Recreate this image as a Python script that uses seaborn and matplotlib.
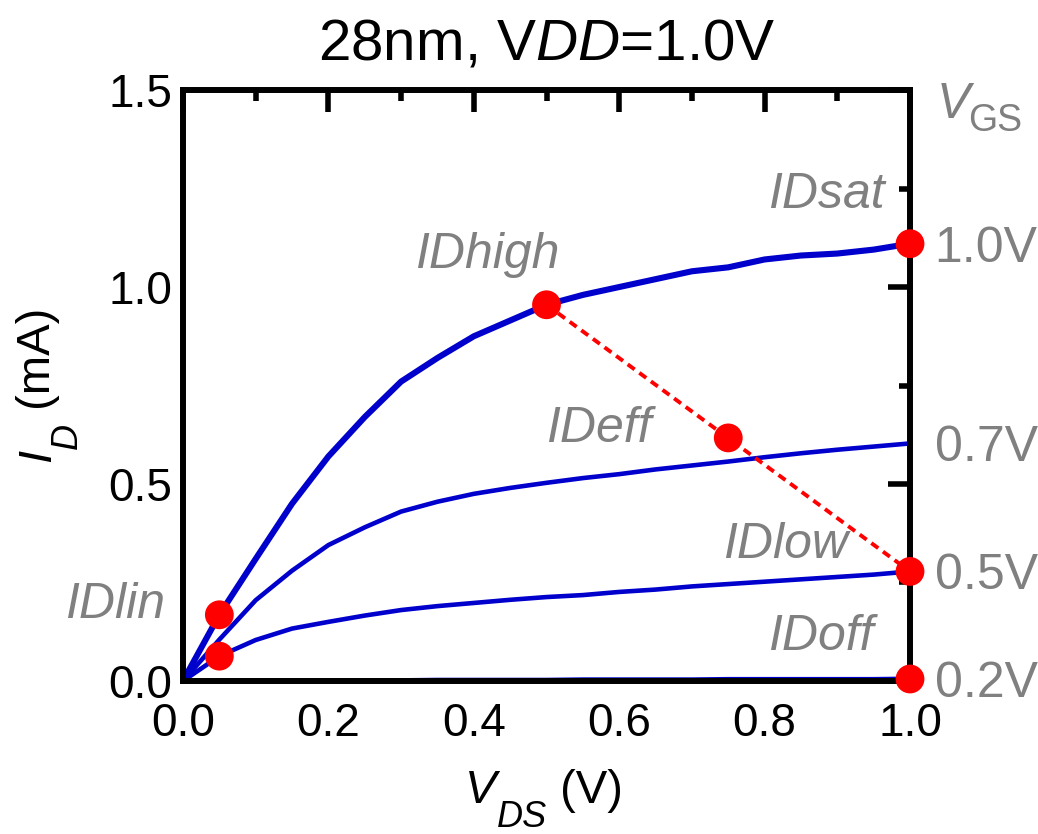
import numpy as np
import pandas as pd
import seaborn as sns
import matplotlib.pyplot as plt
from matplotlib.ticker import MultipleLocator

# Output characteristics (mA vs V)
VDS = [0.0, 0.05, 0.1, 0.15, 0.2, 0.25, 0.3, 0.35, 0.4, 0.45, 0.5,
       0.55, 0.6, 0.65, 0.7, 0.75, 0.8, 0.85, 0.9, 0.95, 1.0]
ID_VGS10 = [0.0, 0.168, 0.31, 0.45, 0.57, 0.67, 0.76, 0.82, 0.875, 0.915, 0.955,
            0.98, 1.0, 1.02, 1.04, 1.05, 1.07, 1.08, 1.085, 1.095, 1.11]
ID_VGS07 = [0.0, 0.105, 0.205, 0.28, 0.345, 0.39, 0.43, 0.455, 0.475, 0.49, 0.503,
            0.515, 0.525, 0.537, 0.547, 0.557, 0.568, 0.578, 0.587, 0.595, 0.603]
ID_VGS05 = [0.0, 0.063, 0.104, 0.133, 0.15, 0.166, 0.18, 0.19, 0.198, 0.206, 0.213,
            0.218, 0.226, 0.232, 0.24, 0.246, 0.252, 0.258, 0.264, 0.27, 0.278]
ID_VGS02 = [0.0, 0.001, 0.001, 0.001, 0.002, 0.002, 0.002, 0.003, 0.003, 0.003, 0.003,
            0.004, 0.004, 0.004, 0.004, 0.005, 0.005, 0.005, 0.005, 0.005, 0.006]
VGS_LABELS = ["1.0V", "0.7V", "0.5V", "0.2V"]

# Marked operating points
POINT_NAMES = ["IDlin", "IDlin2", "IDhigh", "IDeff", "IDlow", "IDsat", "IDoff"]
POINT_VDS = [0.05, 0.05, 0.5, 0.75, 1.0, 1.0, 1.0]
POINT_ID = [0.168, 0.063, 0.955, 0.617, 0.278, 1.11, 0.005]
# IDhigh -> IDlow line
DASH_VDS = [0.5, 1.0]
DASH_ID = [0.955, 0.278]

BLUE = "#0000CD"
GRAY = "#808080"
W, H = 1038, 834


def main():
    sns.set_style("white")
    plt.rcParams['font.family'] = ['Liberation Sans', 'DejaVu Sans']
    plt.rcParams['text.color'] = 'black'
    plt.rcParams['mathtext.fontset'] = 'custom'
    plt.rcParams['mathtext.rm'] = 'Liberation Sans'
    plt.rcParams['mathtext.it'] = 'Liberation Sans:italic'

    curves = pd.concat([
        pd.DataFrame({"Vds": VDS, "Id": ids, "Vgs": lab})
        for ids, lab in zip([ID_VGS10, ID_VGS07, ID_VGS05, ID_VGS02], VGS_LABELS)
    ])
    points = pd.DataFrame({"Vds": POINT_VDS, "Id": POINT_ID, "name": POINT_NAMES})
    dash = pd.DataFrame({"Vds": DASH_VDS, "Id": DASH_ID})

    fig = plt.figure(figsize=(W / 100, H / 100), dpi=100)
    ax = fig.add_axes([0.1763, 0.1835, 0.7004, 0.7085])

    sns.lineplot(data=curves, x="Vds", y="Id", hue="Vgs", hue_order=VGS_LABELS,
                 palette=[BLUE] * 4, size="Vgs",
                 sizes={"1.0V": 4.4, "0.7V": 3.3, "0.5V": 3.3, "0.2V": 3.0},
                 legend=False, ax=ax, estimator=None, sort=False)
    sns.lineplot(data=dash, x="Vds", y="Id", color="red", linewidth=2.8,
                 linestyle=(0, (2.2, 1.5)), ax=ax, legend=False)
    sns.scatterplot(data=points, x="Vds", y="Id", color="red", s=430,
                    edgecolor="none", ax=ax, zorder=5, clip_on=False, legend=False)

    ax.set_xlim(0, 1.0)
    ax.set_ylim(0, 1.5)
    ax.xaxis.set_major_locator(MultipleLocator(0.2))
    ax.xaxis.set_minor_locator(MultipleLocator(0.1))
    ax.yaxis.set_major_locator(MultipleLocator(0.5))
    ax.yaxis.set_minor_locator(MultipleLocator(0.25))
    ax.xaxis.set_major_formatter(lambda v, p: f"{v:.1f}")
    ax.yaxis.set_major_formatter(lambda v, p: f"{v:.1f}")
    ax.tick_params(which="both", direction="in", top=True, right=True,
                   width=4, labelsize=33, colors="black")
    ax.tick_params(which="major", length=16)
    ax.tick_params(which="minor", length=8)
    ax.tick_params(axis="x", which="major", pad=15)
    ax.tick_params(axis="y", which="major", pad=8)
    for s in ax.spines.values():
        s.set_linewidth(4.3)
        s.set_color("black")
    ax.set_xlabel("")
    ax.set_ylabel("")

    ax.set_title("28nm, V$\\mathit{DD}$=1.0V", fontsize=42, pad=22, color="black")

    # x label: V_DS (V) with a large, low subscript
    xv = fig.text(465 / W, 31 / H, "V", fontsize=34, style="italic",
                  ha="left", va="baseline", color="black")
    xs = ax.annotate("DS", xy=(1, 7), xycoords=(xv, "figure pixels"),
                     fontsize=26, style="italic", ha="left", va="baseline",
                     color="black", annotation_clip=False)
    ax.annotate(" (V)", xy=(1, 31), xycoords=(xs, "figure pixels"),
                fontsize=34, ha="left", va="baseline", color="black",
                annotation_clip=False)

    # y label: I_D (mA), rotated
    yi = fig.text(50 / W, 372 / H, "I", fontsize=34, style="italic",
                  rotation=90, rotation_mode="anchor", ha="left", va="baseline",
                  color="black")
    yd = ax.annotate("D", xy=(77, 1), xycoords=("figure pixels", yi),
                     fontsize=26, style="italic", rotation=90,
                     rotation_mode="anchor", ha="left", va="baseline",
                     color="black", annotation_clip=False)
    ax.annotate(" (mA)", xy=(50, 1), xycoords=("figure pixels", yd),
                fontsize=34, rotation=90, rotation_mode="anchor",
                ha="left", va="baseline", color="black", annotation_clip=False)

    lab_kw = dict(color=GRAY, fontsize=36, style="italic", va="baseline", ha="left")
    ax.text(0.319, 1.048, "IDhigh", **lab_kw)
    ax.text(0.804, 1.20, "IDsat", **lab_kw)
    ax.text(0.50, 0.607, "IDeff", **lab_kw)
    ax.text(0.743, 0.312, "IDlow", **lab_kw)
    ax.text(0.805, 0.079, "IDoff", **lab_kw)
    ax.text(-0.162, 0.16, "IDlin", clip_on=False, **lab_kw)

    # V_GS header for the right-hand labels
    gv = ax.text(1.036, 1.429, "V", color=GRAY, fontsize=36, style="italic",
                 va="baseline", ha="left", clip_on=False)
    ax.annotate("GS", xy=(1, 1.429), xycoords=(gv, "data"),
                xytext=(-1, -9.5), textcoords="offset points",
                color=GRAY, fontsize=27, va="baseline", ha="left",
                annotation_clip=False)

    ends = [ID_VGS10[-1], ID_VGS07[-1], ID_VGS05[-1], ID_VGS02[-1]]
    for yv, lab in zip(ends, VGS_LABELS):
        ax.text(1.034, yv, lab, color=GRAY, fontsize=36, va="center_baseline",
                ha="left", clip_on=False)

    fig.savefig("out.png", dpi=100)


if __name__ == "__main__":
    main()
